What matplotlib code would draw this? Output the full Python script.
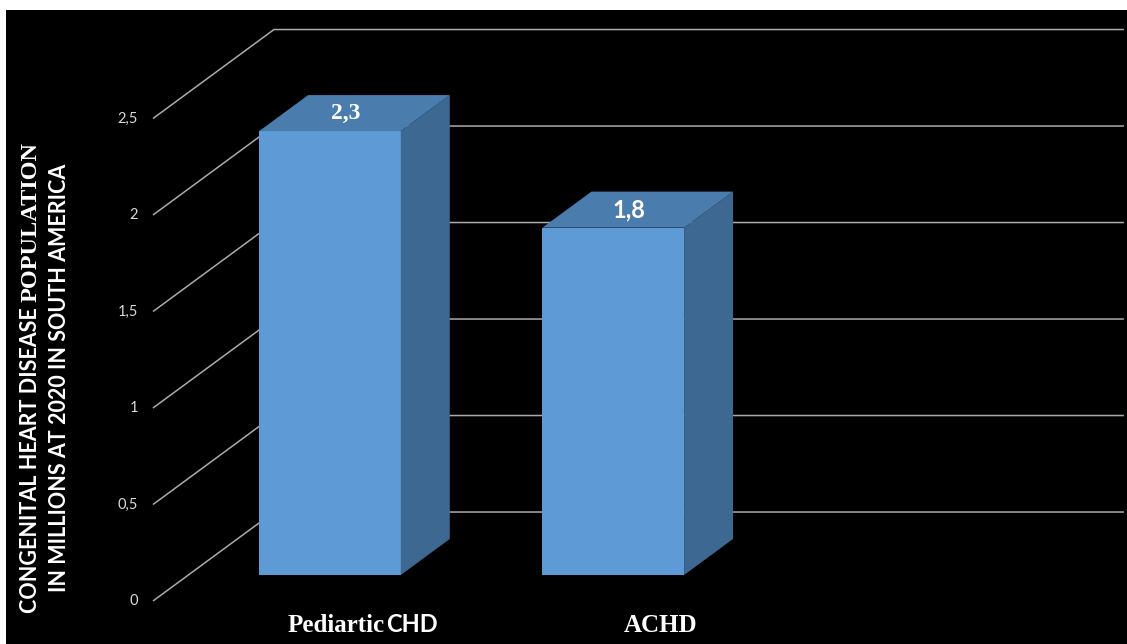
import matplotlib
matplotlib.use("Agg")
import matplotlib.pyplot as plt
from matplotlib.patches import Polygon, Rectangle

# Data (millions of people, 2020)
categories = ["Pediartic CHD", "ACHD"]
values = [2.3, 1.8]
value_labels = ["2,3", "1,8"]
ticks = [0, 0.5, 1, 1.5, 2, 2.5]
tick_labels = ["0", "0,5", "1", "1,5", "2", "2,5"]

# 3D look: the category axis has three slots, the last one left empty
n_slots = 3
DX, DY = 0.427, 0.461          # full floor depth in (slot, value) units
bar_front, bar_back = 0.292, 0.697   # bar depth as fraction of floor depth
bar_w = 0.5

SERIF = "Liberation Serif"
SANS = "Lato"

front_col = "#5E9BD6"
top_col = "#4A7CAE"
side_col = "#3D6891"
grid_col = "#ABABAB"

fig = plt.figure(figsize=(11.27, 6.44), dpi=100)
fig.patch.set_facecolor("white")
fig.patches.append(Rectangle((6 / 1127, 0), 1, 634 / 644, transform=fig.transFigure,
                             facecolor="black", edgecolor="none", zorder=-5))

ax = fig.add_axes([0, 0, 1, 1])
ax.set_facecolor("none")
ax.set_xlim(-0.540, 3.438)
ax.set_ylim(-0.2228, 3.114)
ax.axis("off")

# side wall diagonals + back wall gridlines
for t, lab in zip(ticks, tick_labels):
    ax.plot([0, DX, n_slots + DX], [t, t + DY, t + DY], color=grid_col, lw=1.1,
            solid_capstyle="butt", zorder=1)
    ax.text(-0.053, t, lab, ha="right", va="center", color="#D9D9D9",
            fontsize=10.5, family=SANS)

# bars as prisms: front, side and top faces
for i, v in enumerate(values):
    x0 = i + (1 - bar_w) / 2 + bar_front * DX
    x1 = x0 + bar_w
    y0 = bar_front * DY
    ddx = (bar_back - bar_front) * DX
    ddy = (bar_back - bar_front) * DY
    top = v + y0
    front = Polygon([(x0, y0), (x1, y0), (x1, top), (x0, top)], closed=True,
                    facecolor=front_col, edgecolor="none", zorder=3)
    side = Polygon([(x1, y0), (x1 + ddx, y0 + ddy), (x1 + ddx, top + ddy), (x1, top)],
                   closed=True, facecolor=side_col, edgecolor="none", zorder=3)
    lid = Polygon([(x0, top), (x1, top), (x1 + ddx, top + ddy), (x0 + ddx, top + ddy)],
                  closed=True, facecolor=top_col, edgecolor="none", zorder=3)
    for p in (front, side, lid):
        ax.add_patch(p)
    ax.text((x0 + x1) / 2 + ddx / 2 - 0.03, top + ddy / 2, value_labels[i],
            ha="center", va="center", color="white", fontsize=17, fontweight="bold",
            family=SERIF if i == 0 else SANS, zorder=4)

# category labels (mixed fonts as in the original slide)
lab_y = -0.16
ax.text(0.818, lab_y, "Pediartic", ha="right", va="baseline", color="white",
        fontsize=18, fontweight="bold", family=SERIF)
ax.text(0.824, lab_y, "CHD", ha="left", va="baseline", color="white",
        fontsize=17, fontweight="bold", family=SANS)
ax.text(1.79, lab_y, "ACHD", ha="center", va="baseline", color="white",
        fontsize=18, fontweight="bold", family=SERIF)

# y axis title, two lines
fig.text(31 / 1127, 342 / 644, "CONGENITAL HEART DISEASE ", rotation=90, ha="center",
         va="top", color="white", fontsize=15.5, fontweight="bold", family=SANS)
fig.text(31 / 1127, 342 / 644, "POPULATION", rotation=90, ha="center", va="bottom",
         color="white", fontsize=17.5, fontweight="bold", family=SERIF)
fig.text(60 / 1127, 266 / 644, "IN MILLIONS AT 2020 IN SOUTH AMERICA", rotation=90,
         ha="center", va="center", color="white", fontsize=15.5, fontweight="bold",
         family=SANS)

fig.savefig("out.png", dpi=100, facecolor=fig.get_facecolor())
